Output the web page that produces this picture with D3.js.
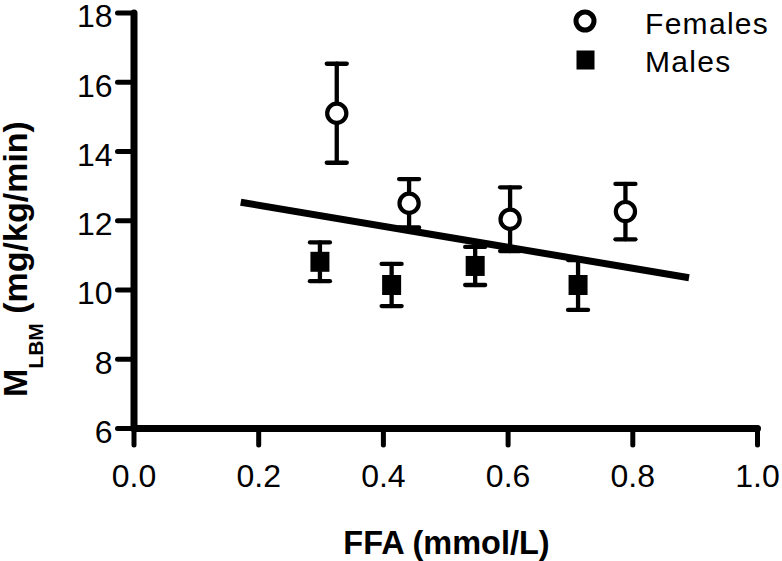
<!DOCTYPE html>
<html>
<head>
<meta charset="utf-8">
<script src="https://cdn.jsdelivr.net/npm/d3@7"></script>
<style>
  html, body { margin: 0; padding: 0; background: #fff; }
  svg { display: block; }
  text { font-family: "Liberation Sans", Arial, Helvetica, sans-serif; fill: #000; }
</style>
</head>
<body>
<svg id="chart" width="782" height="561"></svg>
<script>
// ---- data ----
const xTicks = [0.0, 0.2, 0.4, 0.6, 0.8, 1.0];
const yTicks = [6, 8, 10, 12, 14, 16, 18];

const femaleX   = [0.326, 0.442, 0.604, 0.789];
const femaleY   = [15.09, 12.49, 12.03, 12.25];
const femaleErr = [1.43, 0.70, 0.92, 0.80];

const maleX   = [0.299, 0.414, 0.548, 0.713];
const maleY   = [10.80, 10.13, 10.68, 10.13];
const maleErr = [0.56, 0.61, 0.55, 0.72];

const fitX = [0.172, 0.891];
const fitY = [12.52, 10.34];

const seriesNames = ["Females", "Males"];

// ---- chart ----
const svg = d3.select("#chart");
const x = d3.scaleLinear().domain([0, 1]).range([133.5, 757]);
const y = d3.scaleLinear().domain([6, 18]).range([428, 12.5]);

// axes
const yAxis = svg.append("g")
  .call(d3.axisLeft(y).tickValues(yTicks).tickSize(16).tickSizeOuter(0).tickPadding(5)
    .tickFormat(d3.format("d")));
const xAxis = svg.append("g")
  .attr("transform", `translate(0,${y(6)})`)
  .call(d3.axisBottom(x).tickValues(xTicks).tickSize(17).tickSizeOuter(0)
    .tickFormat(d3.format(".1f")));
yAxis.attr("transform", `translate(${x(0)},0)`);

[yAxis, xAxis].forEach(g => {
  g.select(".domain").attr("stroke", "#000").attr("stroke-width", 7).attr("stroke-linecap", "round");
  g.selectAll(".tick line").attr("stroke", "#000").attr("stroke-width", 5).attr("stroke-linecap", "round");
  g.selectAll(".tick text").attr("font-size", 32).attr("font-family", null).attr("fill", "#000");
});
yAxis.selectAll(".tick text").attr("dy", "0.45em");
xAxis.selectAll(".tick text").attr("y", 59).attr("dy", 0);

// regression line
svg.append("line")
  .attr("x1", x(fitX[0])).attr("y1", y(fitY[0]))
  .attr("x2", x(fitX[1])).attr("y2", y(fitY[1]))
  .attr("stroke", "#000").attr("stroke-width", 7).attr("stroke-linecap", "butt");

function drawErr(xs, ys, es) {
  const g = svg.append("g").attr("stroke", "#000").attr("stroke-width", 4.3).attr("stroke-linecap", "round");
  xs.forEach((xv, i) => {
    const cx = x(xv);
    const top = y(ys[i] + es[i]), bot = y(ys[i] - es[i]);
    g.append("line").attr("x1", cx).attr("x2", cx).attr("y1", top).attr("y2", bot);
    g.append("line").attr("x1", cx - 10).attr("x2", cx + 10).attr("y1", top).attr("y2", top);
    g.append("line").attr("x1", cx - 10).attr("x2", cx + 10).attr("y1", bot).attr("y2", bot);
  });
}
drawErr(femaleX, femaleY, femaleErr);
drawErr(maleX, maleY, maleErr);

// female circles
svg.append("g").selectAll("circle").data(femaleX).join("circle")
  .attr("cx", d => x(d)).attr("cy", (d, i) => y(femaleY[i]))
  .attr("r", 9.6).attr("fill", "#fff").attr("stroke", "#000").attr("stroke-width", 4.2);

// male squares
svg.append("g").selectAll("rect").data(maleX).join("rect")
  .attr("x", d => x(d) - 9.5).attr("y", (d, i) => y(maleY[i]) - 10)
  .attr("width", 19).attr("height", 20).attr("fill", "#000");

// legend
svg.append("circle").attr("cx", 585).attr("cy", 21).attr("r", 9)
  .attr("fill", "#fff").attr("stroke", "#000").attr("stroke-width", 5);
svg.append("rect").attr("x", 576.5).attr("y", 50.5).attr("width", 18).attr("height", 19).attr("fill", "#000");
svg.append("text").attr("x", 645).attr("y", 34).attr("font-size", 30).attr("letter-spacing", 1.3).text(seriesNames[0]);
svg.append("text").attr("x", 645).attr("y", 72).attr("font-size", 30).attr("letter-spacing", 1.3).text(seriesNames[1]);

// axis titles
svg.append("text").attr("x", 446.5).attr("y", 554).attr("text-anchor", "middle")
  .attr("font-size", 32.5).attr("font-weight", "bold").text("FFA (mmol/L)");

const yl = svg.append("text").attr("transform", "translate(27,397) rotate(-90)")
  .attr("font-size", 34).attr("font-weight", "bold");
yl.append("tspan").text("M");
yl.append("tspan").attr("font-size", 21).attr("dy", 16).text("LBM");
yl.append("tspan").attr("dy", -16).text(" (mg/kg/min)");
</script>
</body>
</html>
